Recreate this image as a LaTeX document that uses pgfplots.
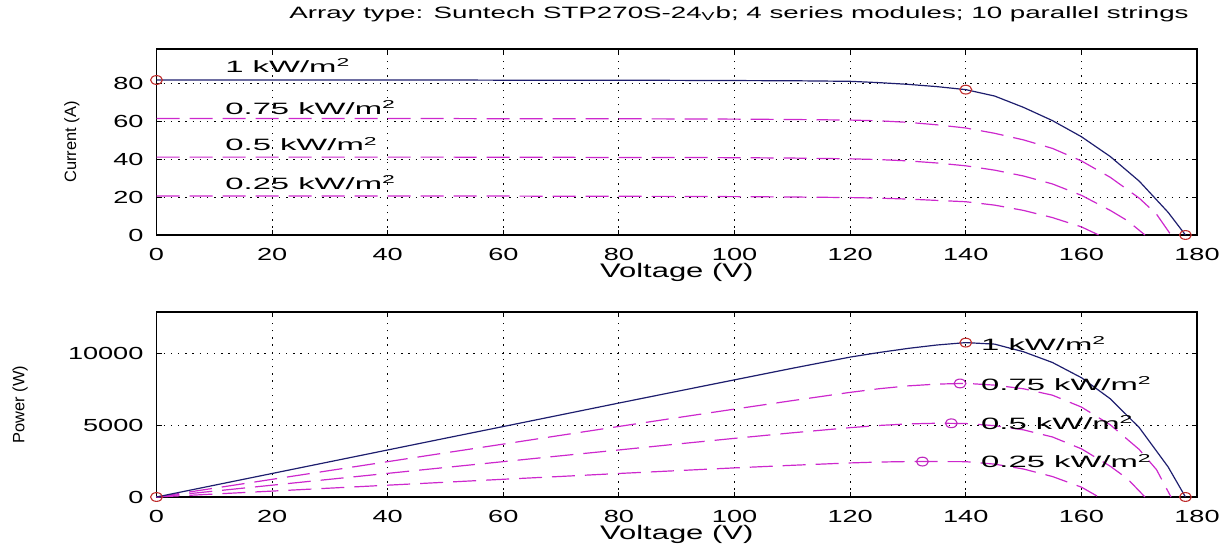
\documentclass[border=0pt]{standalone}
\usepackage{fontspec}
\setmainfont{Liberation Sans}[FakeStretch=1.55]
\newfontfamily\ylabfont{Liberation Sans}
\newfontfamily\xlabfont{Liberation Sans}[FakeStretch=1.58]
\newfontfamily\titlefont{Liberation Sans}[FakeStretch=1.69]
\newfontfamily\labfont{Liberation Sans}[FakeStretch=2.0]
\usepackage{pgfplots}
\pgfplotsset{compat=1.18}
\usepackage{pgfplotstable}

\definecolor{navy}{RGB}{30,30,110}
\definecolor{mag}{RGB}{205,40,205}
\definecolor{redc}{RGB}{190,45,45}
\definecolor{magc}{RGB}{190,40,190}

\pgfplotstableread{
V I P
0 82.0 0
10 82.0 820
20 82.0 1640
30 82.0 2460
40 82.0 3280
50 82.0 4100
60 81.9 4914
70 81.9 5733
80 81.9 6552
90 81.8 7362
100 81.7 8170
110 81.6 8976
120 81.3 9756
125 80.6 10075
130 79.7 10361
135 78.5 10598
140 76.9 10766
145 73.5 10658
150 67.5 10125
155 60.5 9378
160 52.0 8320
165 41.5 6848
170 28.5 4845
175 12.0 2100
178 0 0
}\kwone

\pgfplotstableread{
V I P
0 61.6 0
10 61.6 616
20 61.6 1232
30 61.6 1848
40 61.6 2464
50 61.6 3080
60 61.5 3690
70 61.5 4305
80 61.5 4920
90 61.4 5526
100 61.3 6130
110 61.1 6721
120 60.8 7296
125 60.4 7550
130 59.6 7748
135 58.3 7871
140 56.6 7924
145 53.8 7801
150 50.3 7545
155 45.8 7099
160 39.2 6272
165 30.5 5033
170 19.5 3315
173 11.0 1903
175.5 0 0
}\kwsev

\pgfplotstableread{
V I P
0 41.2 0
10 41.2 412
20 41.2 824
30 41.2 1236
40 41.2 1648
50 41.2 2060
60 41.1 2466
70 41.1 2877
80 41.0 3280
90 41.0 3690
100 40.9 4090
110 40.7 4477
120 40.3 4836
125 39.9 4988
130 39.2 5096
135 38.1 5144
140 36.6 5124
145 34.3 4974
150 31.2 4680
155 27.0 4185
160 21.0 3360
165 13.0 2145
168 7.5 1260
171 0 0
}\kwhalf

\pgfplotstableread{
V I P
0 20.6 0
10 20.6 206
20 20.6 412
30 20.6 618
40 20.6 824
50 20.6 1030
60 20.6 1236
70 20.5 1435
80 20.5 1640
90 20.4 1836
100 20.3 2030
110 20.1 2211
120 19.8 2376
125 19.5 2438
130 19.0 2470
135 18.3 2471
140 17.6 2464
145 15.8 2291
150 13.0 1950
155 9.2 1426
160 4.3 688
163 0 0
}\kwq

\newcommand{\fs}{\fontsize{8.2}{9.5}\selectfont}
\newcommand{\fst}{\fontsize{8.75}{10}\selectfont}
\newcommand{\fsx}{\fontsize{9.8}{11}\selectfont}

\tikzset{lab/.style={anchor=base west, inner sep=0, font=\labfont\fs}}

\pgfplotsset{
  myax/.style={
    scale only axis, width=520.25pt,
    xmin=0, xmax=180, xtick={0,20,...,180},
    tick align=inside, major tick length=2.6pt,
    grid=major,
    major grid style={black, line width=0.45pt, dash pattern=on 0.7pt off 2.9pt},
    axis line style={black, line width=0.55pt},
    every tick/.style={black, line width=0.55pt},
    tick label style={font=\fst, black},
    xticklabel style={yshift=-3pt},
    yticklabel style={xshift=-3pt},
    /pgf/number format/assume math mode=true,
    /pgf/number format/1000 sep={},
    scaled ticks=false,
    clip=false,
    xlabel={Voltage (V)},
    xlabel style={font=\xlabfont\fsx, at={(axis description cs:0.5,-0.2)}, anchor=center},
    ylabel style={font=\ylabfont\fs, anchor=center},
  },
  dsh/.style={mag, line width=0.6pt, dash pattern=on 11.5pt off 5pt},
  sol/.style={navy, line width=0.6pt},
  rc/.style={only marks, mark=o, mark size=2.2pt, redc, mark options={xscale=1.35, line width=0.55pt}},
  mc/.style={only marks, mark=o, mark size=2.2pt, magc, mark options={xscale=1.35, line width=0.55pt}},
}

\begin{document}
\begin{tikzpicture}
\path[use as bounding box] (0,0) rectangle (616pt,273pt);

\node[font=\titlefont\fs] at (369.5pt,266pt) {Array type: Suntech STP270S-24\textsubscript{V}b; 4 series modules; 10 parallel strings};

% top axis
\begin{axis}[myax, at={(78.25pt,155.5pt)}, anchor=south west, height=93pt,
  ymin=0, ymax=98.4, ytick={0,20,40,60,80},
  ylabel={Current (A)},
  ylabel style={at={(axis description cs:-0.0812,0.5)}},
]
\addplot[dsh] table[x=V,y=I] {\kwsev};
\addplot[dsh] table[x=V,y=I] {\kwhalf};
\addplot[dsh] table[x=V,y=I] {\kwq};
\addplot[sol] table[x=V,y=I] {\kwone};
\addplot[rc] coordinates {(0,82.0) (140,76.9) (178,0)};
\node[lab] at (axis cs:11.85,86.2) {1 kW/m\textsuperscript{2}};
\node[lab] at (axis cs:11.85,63.9) {0.75 kW/m\textsuperscript{2}};
\node[lab] at (axis cs:11.85,44.5) {0.5 kW/m\textsuperscript{2}};
\node[lab] at (axis cs:11.85,24.1) {0.25 kW/m\textsuperscript{2}};
\end{axis}

% bottom axis
\begin{axis}[myax, at={(78.25pt,24.5pt)}, anchor=south west, height=92.5pt,
  ymin=0, ymax=12900, ytick={0,5000,10000},
  ylabel={Power (W)},
  ylabel style={at={(axis description cs:-0.131,0.5)}},
]
\addplot[dsh] table[x=V,y=P] {\kwsev};
\addplot[dsh] table[x=V,y=P] {\kwhalf};
\addplot[dsh] table[x=V,y=P] {\kwq};
\addplot[sol] table[x=V,y=P] {\kwone};
\addplot[rc] coordinates {(0,0) (140,10766) (178,0)};
\addplot[mc] coordinates {(139,7916) (137.5,5140) (132.5,2470)};
\node[lab] at (axis cs:142.6,10237) {1 kW/m\textsuperscript{2}};
\node[lab] at (axis cs:142.6,7451) {0.75 kW/m\textsuperscript{2}};
\node[lab] at (axis cs:142.6,4714) {0.5 kW/m\textsuperscript{2}};
\node[lab] at (axis cs:142.6,2040) {0.25 kW/m\textsuperscript{2}};
\end{axis}
\end{tikzpicture}
\end{document}
